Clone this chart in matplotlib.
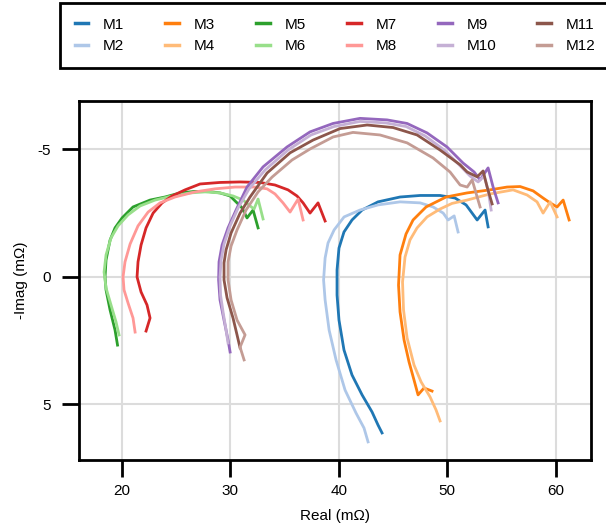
import matplotlib
matplotlib.use("Agg")
import matplotlib.pyplot as plt

plt.rcParams["font.family"] = ["Liberation Sans", "DejaVu Sans"]
plt.rcParams["axes.unicode_minus"] = False

# Nyquist data (Real in mOhm, -Imag axis shown inverted)
m1_re = [44.00, 43.63, 43.08, 42.16, 41.23, 40.49, 40.03, 39.85, 39.85, 40.03, 40.49,
         41.23, 42.16, 43.63, 45.66, 47.51, 49.35, 50.73, 51.75, 52.77, 53.50, 53.78]
m1_im = [6.12, 5.81, 5.30, 4.63, 3.85, 2.87, 1.70, 0.72, -0.26, -1.12, -1.75,
         -2.22, -2.61, -2.93, -3.12, -3.18, -3.18, -3.08, -2.81, -2.22, -2.61, -1.95]

m2_re = [42.71, 42.34, 41.60, 40.59, 39.76, 39.12, 38.75, 38.61, 38.75, 39.02, 39.58,
         40.50, 41.97, 43.63, 45.66, 47.51, 48.71, 49.64, 50.09, 50.65, 51.01]
m2_im = [6.47, 5.93, 5.34, 4.44, 3.26, 2.09, 0.91, 0.13, -0.73, -1.32, -1.83,
         -2.34, -2.61, -2.81, -2.93, -2.89, -2.73, -2.49, -2.22, -2.38, -1.75]

m3_re = [48.61, 47.87, 47.32, 46.95, 46.49, 46.03, 45.66, 45.52, 45.66, 46.21, 46.86,
         48.06, 49.90, 51.84, 53.96, 55.53, 56.73, 57.93, 58.85, 59.50, 60.14, 60.70, 61.25]
m3_im = [4.48, 4.36, 4.63, 4.05, 3.34, 2.48, 1.38, 0.33, -0.85, -1.67, -2.22,
         -2.73, -3.12, -3.28, -3.40, -3.51, -3.53, -3.36, -3.08, -2.89, -2.73, -3.00, -2.22]

m4_re = [49.35, 48.98, 48.43, 47.60, 46.95, 46.31, 45.98, 45.89, 46.12, 46.58, 47.23,
         48.15, 49.35, 50.46, 51.84, 53.96, 56.08, 57.37, 58.29, 58.85, 59.50, 60.14]
m4_im = [5.65, 5.22, 4.71, 4.12, 3.46, 2.40, 1.30, 0.21, -0.77, -1.44, -1.91,
         -2.34, -2.65, -2.87, -3.00, -3.24, -3.40, -3.20, -2.93, -2.49, -2.93, -2.34]

m5_re = [19.61, 19.38, 18.92, 18.55, 18.46, 18.55, 18.92, 19.38, 20.03, 21.04, 22.61,
         23.99, 25.38, 26.76, 27.87, 29.06, 29.99, 30.63, 31.10, 31.55, 32.11, 32.57]
m5_im = [2.68, 2.09, 1.30, 0.52, 0.01, -0.65, -1.43, -1.91, -2.30, -2.73, -3.00,
         -3.12, -3.28, -3.34, -3.34, -3.28, -3.16, -2.89, -2.69, -2.30, -2.61, -1.91]

m6_re = [19.75, 19.47, 19.01, 18.55, 18.37, 18.55, 19.01, 19.66, 20.58, 21.69, 23.07,
         24.64, 26.30, 27.68, 29.06, 30.27, 31.19, 31.83, 32.20, 32.57, 33.03]
m6_im = [2.28, 1.77, 1.11, 0.44, -0.18, -0.85, -1.52, -1.99, -2.42, -2.77, -3.00,
         -3.16, -3.28, -3.32, -3.28, -3.16, -3.00, -2.77, -2.65, -3.04, -2.26]

m7_re = [22.24, 22.61, 22.33, 21.78, 21.41, 21.50, 21.78, 22.24, 22.89, 23.72, 24.64,
         25.84, 27.22, 29.06, 30.91, 32.75, 34.13, 35.33, 36.16, 36.72, 37.36, 38.10, 38.75]
m7_im = [2.13, 1.62, 1.11, 0.60, 0.01, -0.58, -1.24, -1.91, -2.49, -2.89, -3.16,
         -3.40, -3.63, -3.69, -3.71, -3.69, -3.59, -3.40, -3.16, -2.89, -2.49, -2.89, -2.18]

m8_re = [21.23, 21.04, 20.58, 20.21, 20.12, 20.30, 20.77, 21.50, 22.43, 23.53, 24.91,
         26.76, 28.60, 30.45, 32.29, 33.40, 34.13, 34.87, 35.52, 36.26, 36.72]
m8_im = [2.17, 1.62, 1.03, 0.52, 0.01, -0.58, -1.28, -1.99, -2.53, -2.89, -3.12,
         -3.32, -3.44, -3.51, -3.51, -3.44, -3.24, -2.89, -2.53, -3.04, -2.22]

m9_re = [29.99, 29.80, 29.43, 29.06, 28.93, 28.97, 29.25, 29.80, 30.54, 31.55, 33.03,
         35.24, 37.36, 39.48, 41.97, 44.46, 46.31, 48.15, 49.99, 51.47, 52.49, 53.04,
         53.78, 54.24, 54.70]
m9_im = [2.95, 2.48, 1.70, 0.91, 0.13, -0.58, -1.24, -1.91, -2.61, -3.51, -4.30,
         -5.08, -5.67, -6.00, -6.20, -6.14, -6.00, -5.63, -5.08, -4.45, -4.10, -3.79,
         -4.26, -3.51, -2.89]

m10_re = [29.80, 29.62, 29.34, 29.11, 29.06, 29.16, 29.43, 29.99, 30.73, 31.74, 33.22,
          35.33, 37.45, 39.57, 41.97, 44.37, 46.22, 47.98, 49.73, 51.11, 52.12, 52.86,
          53.41, 53.78, 54.06]
m10_im = [2.60, 2.09, 1.38, 0.72, 0.01, -0.65, -1.28, -1.99, -2.69, -3.44, -4.18,
          -4.96, -5.55, -5.88, -6.08, -6.02, -5.88, -5.51, -4.96, -4.38, -3.94, -3.71,
          -3.94, -3.40, -2.61]

m11_re = [30.91, 30.63, 30.26, 29.71, 29.43, 29.43, 29.62, 30.08, 30.91, 31.83, 33.40,
          35.52, 37.64, 40.13, 42.62, 45.02, 47.23, 49.35, 51.20, 51.85, 52.77, 53.32,
          53.69, 54.15]
m11_im = [2.79, 2.28, 1.62, 0.83, 0.13, -0.54, -1.05, -1.71, -2.49, -3.12, -4.06,
          -4.85, -5.35, -5.80, -5.94, -5.84, -5.55, -4.96, -4.38, -4.10, -3.91, -4.14,
          -3.51, -2.85]

m12_re = [31.28, 30.91, 31.37, 30.63, 30.08, 29.80, 29.80, 30.08, 30.63, 31.46, 32.57,
          33.86, 35.70, 37.36, 39.48, 41.32, 43.81, 46.31, 48.70, 50.27, 51.20, 51.85,
          52.31, 52.77, 53.04]
m12_im = [3.26, 2.76, 2.28, 1.70, 0.91, 0.13, -0.58, -1.20, -1.83, -2.61, -3.32,
          -3.90, -4.57, -5.00, -5.47, -5.65, -5.55, -5.24, -4.65, -4.10, -3.59, -3.51,
          -3.79, -3.12, -2.73]

labels = ["M1", "M2", "M3", "M4", "M5", "M6", "M7", "M8", "M9", "M10", "M11", "M12"]
reals = [m1_re, m2_re, m3_re, m4_re, m5_re, m6_re, m7_re, m8_re, m9_re, m10_re, m11_re, m12_re]
imags = [m1_im, m2_im, m3_im, m4_im, m5_im, m6_im, m7_im, m8_im, m9_im, m10_im, m11_im, m12_im]

x_ticks = [20, 30, 40, 50, 60]
y_ticks = [-5, 0, 5]

fig = plt.figure(figsize=(6.06, 5.31), dpi=100)
ax = fig.add_axes([0.1304, 0.1337, 0.8449, 0.6761])

colors = plt.get_cmap("tab20").colors
for i, (re, im, lab) in enumerate(zip(reals, imags, labels)):
    ax.plot(re, im, color=colors[i], linewidth=2.0, label=lab, zorder=3)

ax.set_xlim(16.06, 63.27)
ax.set_ylim(7.18, -6.88)  # inverted: -5 on top
ax.set_xticks(x_ticks)
ax.set_yticks(y_ticks)

ax.grid(True, color="#dcdcdc", linewidth=1.5, zorder=0)
ax.set_axisbelow(True)

ax.tick_params(axis="both", direction="out", length=12, width=2, labelsize=11)
ax.tick_params(axis="x", pad=5)
ax.tick_params(axis="y", pad=8)

for spine in ax.spines.values():
    spine.set_linewidth(2)
    spine.set_color("black")

ax.set_xlabel("Real (mΩ)", fontsize=11, labelpad=8)
ax.set_ylabel("-Imag (mΩ)", fontsize=11, labelpad=7)

handles, labs = ax.get_legend_handles_labels()
leg = fig.legend(
    handles,
    labs,
    loc="lower left",
    bbox_to_anchor=(60 / 606, 1 - 67.7 / 531, 550 / 606, 0.05),
    bbox_transform=fig.transFigure,
    mode="expand",
    ncol=6,
    fontsize=11,
    frameon=True,
    fancybox=False,
    borderaxespad=0,
    borderpad=0.95,
    labelspacing=0.5,
    handlelength=0.9,
    handletextpad=0.95,
)
for line in leg.get_lines():
    line.set_linewidth(2.5)
leg.get_frame().set_edgecolor("black")
leg.get_frame().set_linewidth(2)
leg.get_frame().set_alpha(1)

fig.savefig("out.png", dpi=100)
plt.close(fig)
